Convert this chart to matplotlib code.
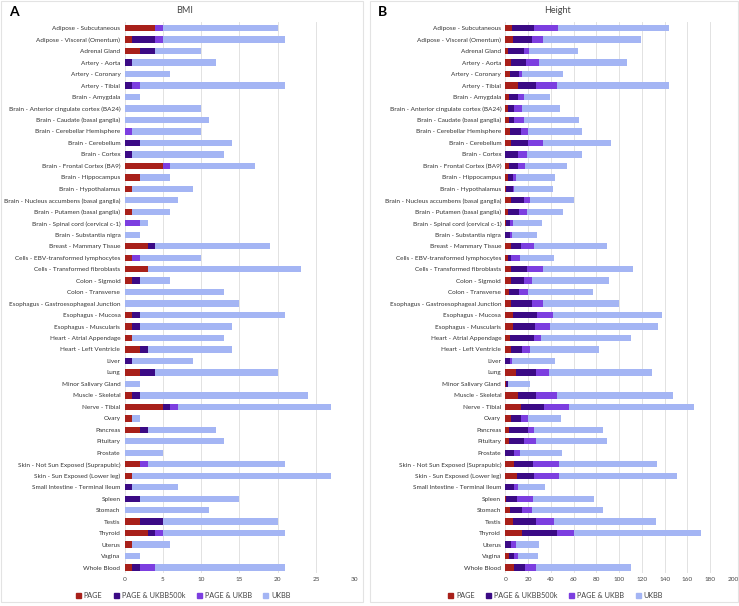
import matplotlib
matplotlib.use('Agg')
import matplotlib.pyplot as plt
from matplotlib.patches import Rectangle, Patch
import numpy as np

plt.rcParams['font.family'] = ['Lato', 'DejaVu Sans']

# tissues (top to bottom)
tissues = [
    'Adipose - Subcutaneous', 'Adipose - Visceral (Omentum)', 'Adrenal Gland',
    'Artery - Aorta', 'Artery - Coronary', 'Artery - Tibial', 'Brain - Amygdala',
    'Brain - Anterior cingulate cortex (BA24)', 'Brain - Caudate (basal ganglia)',
    'Brain - Cerebellar Hemisphere', 'Brain - Cerebellum', 'Brain - Cortex',
    'Brain - Frontal Cortex (BA9)', 'Brain - Hippocampus', 'Brain - Hypothalamus',
    'Brain - Nucleus accumbens (basal ganglia)', 'Brain - Putamen (basal ganglia)',
    'Brain - Spinal cord (cervical c-1)', 'Brain - Substantia nigra',
    'Breast - Mammary Tissue', 'Cells - EBV-transformed lymphocytes',
    'Cells - Transformed fibroblasts', 'Colon - Sigmoid', 'Colon - Transverse',
    'Esophagus - Gastroesophageal Junction', 'Esophagus - Mucosa',
    'Esophagus - Muscularis', 'Heart - Atrial Appendage', 'Heart - Left Ventricle',
    'Liver', 'Lung', 'Minor Salivary Gland', 'Muscle - Skeletal', 'Nerve - Tibial',
    'Ovary', 'Pancreas', 'Pituitary', 'Prostate',
    'Skin - Not Sun Exposed (Suprapubic)', 'Skin - Sun Exposed (Lower leg)',
    'Small Intestine - Terminal Ileum', 'Spleen', 'Stomach', 'Testis', 'Thyroid',
    'Uterus', 'Vagina', 'Whole Blood']

series_names = ['PAGE', 'PAGE & UKBB500k', 'PAGE & UKBB', 'UKBB']
colors = ['#A8201A', '#3B0A85', '#7C3EE0', '#A4B5F4']

# BMI counts per series
bmi_page = [4, 1, 2, 0, 0, 0, 0, 0, 0, 0, 0, 0, 5, 2, 1, 0, 1, 0, 0, 3, 1, 3, 1, 0,
            0, 1, 1, 1, 2, 0, 2, 0, 1, 5, 1, 2, 0, 0, 2, 1, 0, 0, 0, 2, 3, 1, 0, 1]
bmi_page_ukbb500k = [0, 3, 2, 1, 0, 1, 0, 0, 0, 0, 2, 1, 0, 0, 0, 0, 0, 0, 0, 1, 0, 0, 1, 0,
                     0, 1, 1, 0, 1, 1, 2, 0, 1, 1, 0, 1, 0, 0, 0, 0, 1, 2, 0, 3, 1, 0, 0, 1]
bmi_page_ukbb = [1, 1, 0, 0, 0, 1, 0, 0, 0, 1, 0, 0, 1, 0, 0, 0, 0, 2, 0, 0, 1, 0, 0, 0,
                 0, 0, 0, 0, 0, 0, 0, 0, 0, 1, 0, 0, 0, 0, 1, 0, 0, 0, 0, 0, 1, 0, 0, 2]
bmi_ukbb = [15, 16, 6, 11, 6, 19, 2, 10, 11, 9, 12, 12, 11, 4, 8, 7, 5, 1, 2, 15, 8, 20, 4, 13,
            15, 19, 12, 12, 11, 8, 16, 2, 22, 20, 1, 9, 13, 5, 18, 26, 6, 13, 11, 15, 16, 5, 2, 17]

# Height counts per series
ht_page = [6, 7, 2, 5, 4, 11, 3, 2, 3, 4, 5, 0, 3, 2, 1, 5, 2, 1, 0, 5, 2, 5, 5, 3,
           5, 7, 7, 4, 5, 0, 9, 1, 11, 14, 5, 3, 3, 0, 8, 10, 0, 1, 4, 7, 15, 0, 3, 8]
ht_page_ukbb500k = [19, 16, 14, 13, 8, 16, 8, 6, 5, 10, 15, 11, 8, 5, 6, 11, 10, 3, 4, 9, 3, 14, 11, 9,
                    18, 21, 19, 21, 10, 4, 18, 1, 16, 20, 9, 17, 13, 8, 16, 15, 8, 9, 11, 20, 30, 5, 5, 9]
ht_page_ukbb = [21, 10, 5, 12, 3, 18, 5, 7, 8, 6, 13, 8, 6, 2, 1, 6, 7, 3, 2, 11, 8, 14, 7, 8,
                10, 14, 13, 6, 7, 2, 11, 0, 18, 22, 6, 5, 11, 5, 23, 22, 3, 14, 8, 16, 15, 4, 3, 10]
ht_ukbb = [98, 86, 43, 77, 36, 99, 23, 33, 49, 47, 60, 48, 37, 35, 34, 38, 32, 25, 22, 64, 30, 79, 68, 57,
           67, 96, 95, 79, 60, 38, 91, 20, 102, 110, 29, 61, 62, 37, 86, 104, 24, 54, 63, 89, 112, 21, 18, 83]

bmi_ticks = [0, 5, 10, 15, 20, 25, 30]
ht_ticks = [0, 20, 40, 60, 80, 100, 120, 140, 160, 180, 200]

fig = plt.figure(figsize=(7.39, 6.06), dpi=100)

# light frames round each panel
for x0, w in [(0.001, 0.490), (0.500, 0.498)]:
    fig.patches.append(Rectangle((x0, 0.006), w, 0.992, transform=fig.transFigure,
                                 fill=False, edgecolor='#E3E3E3', linewidth=0.8))


def draw_panel(ax, series, ticks):
    y = np.arange(len(tissues))
    left = np.zeros(len(tissues))
    for vals, name, col in zip(series, series_names, colors):
        vals = np.array(vals, dtype=float)
        ax.barh(y, vals, left=left, height=0.55, color=col, label=name, zorder=3)
        left += vals
    ax.set_yticks(y)
    ax.set_yticklabels(tissues, fontsize=4.6, color='#333333')
    ax.set_ylim(len(tissues) - 0.5, -0.5)
    ax.set_xticks(ticks)
    ax.set_xticklabels([str(t) for t in ticks], fontsize=4.6, color='#444444')
    ax.set_xlim(ticks[0], ticks[-1])
    ax.grid(axis='x', color='#E2E2E2', linewidth=0.7, zorder=0)
    for s in ax.spines.values():
        s.set_visible(False)
    ax.tick_params(length=0, pad=3)


axA = fig.add_axes([0.1685, 0.054, 0.311, 0.909])
draw_panel(axA, [bmi_page, bmi_page_ukbb500k, bmi_page_ukbb, bmi_ukbb], bmi_ticks)
axB = fig.add_axes([0.6838, 0.054, 0.308, 0.909])
draw_panel(axB, [ht_page, ht_page_ukbb500k, ht_page_ukbb, ht_ukbb], ht_ticks)

fig.text(0.250, 0.983, 'BMI', fontsize=6.5, ha='center', va='center', color='#444444')
fig.text(0.755, 0.983, 'Height', fontsize=6.5, ha='center', va='center', color='#444444')
fig.text(0.012, 0.980, 'A', fontsize=10, fontweight='bold', ha='left', va='center')
fig.text(0.511, 0.980, 'B', fontsize=10, fontweight='bold', ha='left', va='center')

handles = [Patch(color=c, label=n) for c, n in zip(colors, series_names)]
for cx in [0.248, 0.752]:
    fig.legend(handles=handles, loc='center', bbox_to_anchor=(cx, 0.018), ncol=4,
               frameon=False, fontsize=5.2, handlelength=0.7, handleheight=0.7,
               handletextpad=0.4, columnspacing=1.6, labelcolor='#444444')

plt.savefig('out.png', dpi=100)
